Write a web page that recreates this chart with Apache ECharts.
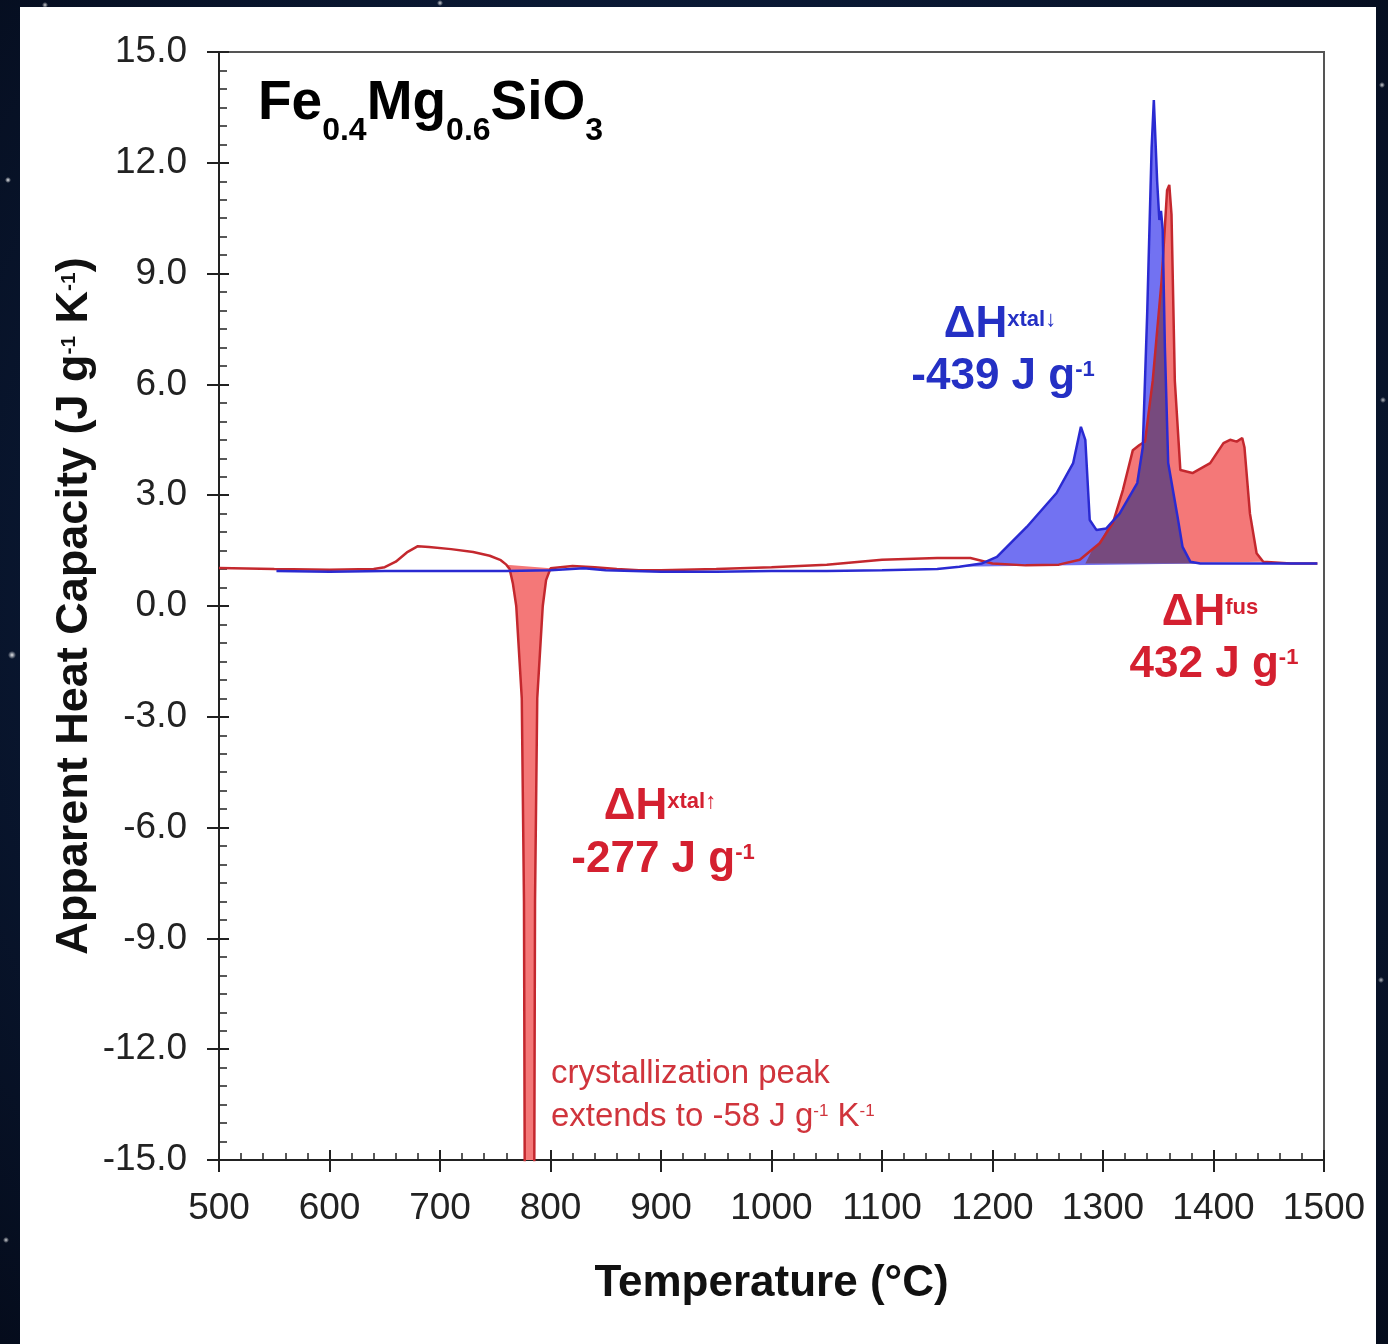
<!DOCTYPE html>
<html>
<head>
<meta charset="utf-8">
<title>Fe0.4Mg0.6SiO3 apparent heat capacity</title>
<script src="https://cdn.jsdelivr.net/npm/echarts@6/dist/echarts.min.js"></script>
<style>
html, body { margin: 0; padding: 0; }
body {
  width: 1388px;
  height: 1344px;
  overflow: hidden;
  position: relative;
  background:
    radial-gradient(circle at 8px 180px, rgba(255,255,255,0.9) 0, rgba(255,255,255,0) 3px),
    radial-gradient(circle at 12px 655px, rgba(255,255,255,0.9) 0, rgba(255,255,255,0) 4px),
    radial-gradient(circle at 6px 1240px, rgba(255,255,255,0.8) 0, rgba(255,255,255,0) 3px),
    radial-gradient(circle at 1382px 85px, rgba(255,255,255,0.8) 0, rgba(255,255,255,0) 3px),
    radial-gradient(circle at 1383px 400px, rgba(255,255,255,0.7) 0, rgba(255,255,255,0) 3px),
    radial-gradient(circle at 1381px 980px, rgba(255,255,255,0.7) 0, rgba(255,255,255,0) 3px),
    radial-gradient(circle at 440px 3px, rgba(255,255,255,0.8) 0, rgba(255,255,255,0) 3px),
    radial-gradient(circle at 45px 5px, rgba(255,255,255,0.8) 0, rgba(255,255,255,0) 3px),
    radial-gradient(ellipse at 50% 45%, #15305a 0%, #0b1b38 50%, #050c1c 100%);
}
#chart {
  position: absolute;
  left: 20px;
  top: 7px;
  width: 1356px;
  height: 1337px;
  background: #ffffff;
}
</style>
</head>
<body>
<div id="chart"></div>
<script>
// axis ranges
const xMin = 500, xMax = 1500, xStep = 100;
const yMin = -15, yMax = 15, yStep = 3;

// heating curve (red)
const heatTemp = [500, 550, 600, 640, 650, 660, 670, 680, 690, 710,
  730, 745, 755, 760, 763, 766, 769, 771, 774, 776,
  779, 781, 783, 786, 788, 791, 793, 796, 800, 820,
  840, 860, 880, 900, 950, 1000, 1050, 1100, 1150, 1180,
  1200, 1230, 1260, 1279, 1297, 1309, 1318, 1327, 1333, 1338,
  1345, 1353, 1358, 1360, 1362, 1365, 1370, 1381, 1397, 1409,
  1415, 1421, 1426, 1428, 1433, 1439, 1445, 1470, 1494];
const heatCp = [1.03, 1.0, 0.98, 1.0, 1.05, 1.2, 1.45, 1.62, 1.6, 1.54,
  1.46, 1.36, 1.24, 1.12, 1.0, 0.6, 0.0, -1.0, -2.5, -8,
  -40, -58, -40, -8, -2.5, -1.0, 0.0, 0.7, 1.02, 1.08,
  1.05, 1.0, 0.97, 0.97, 1.0, 1.05, 1.12, 1.25, 1.3, 1.3,
  1.15, 1.1, 1.12, 1.25, 1.7, 2.25, 3.14, 4.22, 4.36, 4.45,
  6.1, 8.8, 11.26, 11.4, 10.6, 6.1, 3.68, 3.6, 3.87, 4.41,
  4.5, 4.45, 4.55, 4.3, 2.5, 1.43, 1.2, 1.15, 1.15];

// cooling curve (blue)
const coolTemp = [552, 600, 650, 700, 760, 800, 830, 850, 900, 950,
  1000, 1050, 1100, 1150, 1170, 1190, 1204, 1231, 1258, 1273,
  1280, 1284, 1288, 1294, 1303, 1315, 1331, 1336, 1340, 1344,
  1346, 1349, 1351, 1352.5, 1354, 1356, 1359, 1367, 1372, 1379,
  1388, 1430, 1494];
const coolCp = [0.95, 0.93, 0.95, 0.95, 0.95, 0.97, 1.02, 0.97, 0.93, 0.93,
  0.95, 0.95, 0.97, 1.0, 1.06, 1.15, 1.33, 2.14, 3.06, 3.87,
  4.85, 4.5, 2.33, 2.06, 2.1, 2.5, 3.33, 4.3, 7.93, 12.4,
  13.7, 11.5, 10.45, 10.7, 10.2, 7.0, 3.87, 2.5, 1.6, 1.2,
  1.15, 1.15, 1.15];

// upper edge of the region where both shaded peaks overlap (dark purple)
const overlapTemp = [1284, 1290, 1297, 1303, 1309, 1315, 1325, 1331, 1336, 1338,
  1345, 1350, 1353, 1355, 1356, 1359, 1367, 1372, 1379, 1388];
const overlapCp = [1.15, 1.5, 1.7, 2.05, 2.25, 2.5, 3.0, 3.33, 4.3, 4.45,
  6.1, 7.5, 8.8, 8.6, 7.0, 3.87, 2.5, 1.6, 1.2, 1.15];

// temperature ranges of the shaded peaks
const heatPeaks = [[760, 800], [1260, 1445]];
const coolPeaks = [[1170, 1388]];

var FONT = '"Liberation Sans", Arial, Helvetica, sans-serif';
var RED_LINE = "#c4282e";
var RED_FILL = "#f47878";
var BLUE_LINE = "#2a2ad2";
var BLUE_FILL = "#7272f2";
var OVERLAP_FILL = "#774a7e";
var RED_TEXT = "#d42030";
var BLUE_TEXT = "#2430c4";

function pairs(t, c) {
  return t.map(function (v, i) {
    return [v, c[i]];
  });
}

// shaded area between a peak and the straight line joining its ends
function peakFill(temps, cps, range, color, z) {
  return {
    type: "custom",
    coordinateSystem: "cartesian2d",
    xAxisIndex: 0,
    yAxisIndex: 0,
    clip: true,
    silent: true,
    z: z,
    data: [[range[0], 0]],
    renderItem: function (params, api) {
      var pts = [];
      for (var i = 0; i < temps.length; i++) {
        if (temps[i] >= range[0] && temps[i] <= range[1]) {
          pts.push(api.coord([temps[i], cps[i]]));
        }
      }
      return {
        type: "polygon",
        shape: { points: pts },
        style: { fill: color },
      };
    },
  };
}

var chart = echarts.init(document.getElementById("chart"));

var series = [];
heatPeaks.forEach(function (r) {
  series.push(peakFill(heatTemp, heatCp, r, RED_FILL, 1));
});
coolPeaks.forEach(function (r) {
  series.push(peakFill(coolTemp, coolCp, r, BLUE_FILL, 1));
});
series.push(peakFill(overlapTemp, overlapCp, [overlapTemp[0], overlapTemp[overlapTemp.length - 1]], OVERLAP_FILL, 2));
series.push({
  name: "heating",
  type: "line",
  xAxisIndex: 0,
  yAxisIndex: 0,
  data: pairs(heatTemp, heatCp),
  showSymbol: false,
  z: 3,
  lineStyle: { color: RED_LINE, width: 2.5 },
});
series.push({
  name: "cooling",
  type: "line",
  xAxisIndex: 0,
  yAxisIndex: 0,
  data: pairs(coolTemp, coolCp),
  showSymbol: false,
  z: 4,
  lineStyle: { color: BLUE_LINE, width: 2.5 },
});

var tickColor = "#222";

function annot(x, y, text, color, raise) {
  return {
    type: "text",
    x: x,
    y: y,
    z: 10,
    style: {
      text: text,
      fill: color,
      align: "center",
      verticalAlign: "middle",
      rich: {
        m: { fontSize: 44, fontWeight: "bold", fontFamily: FONT, fill: color },
        s: { fontSize: 22, fontWeight: "bold", fontFamily: FONT, fill: color, padding: [0, 0, raise, 0] },
      },
    },
  };
}

function note(x, y, text) {
  var color = "#d0343c";
  return {
    type: "text",
    x: x,
    y: y,
    z: 10,
    style: {
      text: text,
      fill: color,
      align: "left",
      verticalAlign: "middle",
      rich: {
        m: { fontSize: 33, fontFamily: FONT, fill: color },
        s: { fontSize: 17, fontFamily: FONT, fill: color, padding: [0, 0, 12, 0] },
      },
    },
  };
}

var option = {
  animation: false,
  backgroundColor: "#ffffff",
  grid: {
    left: 199,
    right: 52,
    top: 45,
    bottom: 184,
    containLabel: false,
    outerBoundsMode: "none",
    show: true,
    borderColor: "#555",
    borderWidth: 2,
    backgroundColor: "transparent",
  },
  xAxis: [
    {
      type: "value",
      min: xMin,
      max: xMax,
      interval: xStep,
      position: "bottom",
      axisLine: { show: true, onZero: false, lineStyle: { color: tickColor, width: 2 } },
      axisTick: { show: true, inside: false, length: 12, lineStyle: { color: tickColor, width: 2 } },
      minorTick: { show: false },
      splitLine: { show: false },
      axisLabel: {
        margin: 30,
        fontSize: 37,
        color: "#222",
        fontFamily: FONT,
        formatter: function (v) {
          return String(v);
        },
      },
      name: "Temperature (°C)",
      nameLocation: "middle",
      nameGap: 102,
      nameMoveOverlap: false,
      nameTextStyle: { fontSize: 44, fontWeight: "bold", color: "#111", fontFamily: FONT },
    },
    {
      type: "value",
      min: xMin,
      max: xMax,
      interval: xStep,
      position: "bottom",
      axisLine: { show: false, onZero: false },
      axisTick: { show: true, inside: true, length: 10, lineStyle: { color: tickColor, width: 2 } },
      minorTick: { show: true, splitNumber: 5, length: 7, lineStyle: { color: tickColor, width: 1.5 } },
      splitLine: { show: false },
      axisLabel: { show: false },
    },
  ],
  yAxis: [
    {
      type: "value",
      min: yMin,
      max: yMax,
      interval: yStep,
      position: "left",
      axisLine: { show: true, onZero: false, lineStyle: { color: tickColor, width: 2 } },
      axisTick: { show: true, inside: false, length: 12, lineStyle: { color: tickColor, width: 2 } },
      minorTick: { show: false },
      splitLine: { show: false },
      axisLabel: {
        margin: 32,
        fontSize: 37,
        color: "#222",
        fontFamily: FONT,
        formatter: function (v) {
          return v.toFixed(1);
        },
      },
      name: "Apparent Heat Capacity (J g{s|-1} K{s|-1})",
      nameLocation: "middle",
      nameGap: 122,
      nameMoveOverlap: false,
      nameTextStyle: {
        fontSize: 45,
        fontWeight: "bold",
        color: "#111",
        fontFamily: FONT,
        rich: {
          s: { fontSize: 21, fontWeight: "bold", color: "#111", fontFamily: FONT, padding: [0, 0, 10, 0] },
        },
      },
    },
    {
      type: "value",
      min: yMin,
      max: yMax,
      interval: yStep,
      position: "left",
      axisLine: { show: false, onZero: false },
      axisTick: { show: true, inside: true, length: 10, lineStyle: { color: tickColor, width: 2 } },
      minorTick: { show: true, splitNumber: 6, length: 8, lineStyle: { color: tickColor, width: 1.5 } },
      splitLine: { show: false },
      axisLabel: { show: false },
    },
  ],
  series: series,
  graphic: [
    {
      type: "text",
      x: 238,
      y: 97,
      z: 10,
      style: {
        text: "{b|Fe}{s|0.4}{b|Mg}{s|0.6}{b|SiO}{s|3}",
        fill: "#000",
        align: "left",
        verticalAlign: "middle",
        rich: {
          b: { fontSize: 55, fontWeight: "bold", fontFamily: FONT, fill: "#000" },
          s: { fontSize: 32, fontWeight: "bold", fontFamily: FONT, fill: "#000", padding: [54, 0, 0, 0] },
        },
      },
    },
    annot(980, 318, "{m|ΔH}{s|xtal↓}", BLUE_TEXT, 10),
    annot(983, 370, "{m|-439 J g}{s|-1}", BLUE_TEXT, 14),
    annot(1190, 606, "{m|ΔH}{s|fus}", RED_TEXT, 10),
    annot(1194, 658, "{m|432 J g}{s|-1}", RED_TEXT, 14),
    annot(640, 800, "{m|ΔH}{s|xtal↑}", RED_TEXT, 10),
    annot(643, 853, "{m|-277 J g}{s|-1}", RED_TEXT, 14),
    note(531, 1067, "{m|crystallization peak}"),
    note(531, 1110, "{m|extends to -58 J g}{s|-1}{m| K}{s|-1}"),
  ],
};

chart.setOption(option);
window.addEventListener("resize", function () {
  chart.resize();
});
</script>
</body>
</html>
